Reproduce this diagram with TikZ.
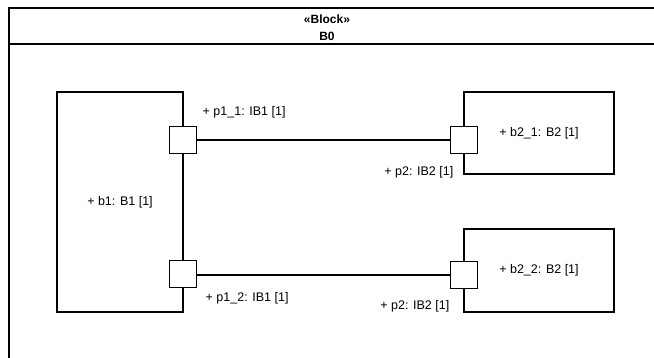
\documentclass[tikz,border=0pt]{standalone}
\usepackage{fontspec}
\setmainfont{Liberation Sans}
\usetikzlibrary{positioning,calc}
\begin{document}
\begin{tikzpicture}[x=1pt, y=-1pt,
	block/.style = {draw, line width=1.1pt, fill=white, outer sep=0pt, font=\fontsize{12.5}{15}\selectfont},
	port/.style = {draw, line width=1.1pt, fill=white, outer sep=0pt, minimum width=27pt, minimum height=27pt, inner sep=0pt},
	lbl/.style = {inner sep=0pt, font=\fontsize{12.5}{15}\selectfont},
	link/.style = {line width=1.5pt}]
	\clip (0,0) rectangle (654,357);
	\useasboundingbox (0,0) rectangle (654,357);
	% frame of B0
	\draw[line width=1.1pt] (9,370) -- (9,8) -- (665,8);
	\draw[line width=1.1pt] (9,44) -- (665,44);
	\node[lbl, font=\fontsize{12}{15}\selectfont\bfseries] (stereo) at (327,19) {«Block»};
	\node[lbl, font=\fontsize{12}{15}\selectfont\bfseries] (hdr) at (327,36) {B0};
	% parts
	\node[block, minimum width=126pt, minimum height=220pt] (b1) at (120,202) {\raisebox{-4pt}{+ b1: B1 [1]}};
	\node[block, minimum width=150pt, minimum height=82pt] (b21) at (539,133) {+ b2\_1: B2 [1]};
	\node[block, minimum width=150pt, minimum height=83pt] (b22) at (539,270.5) {+ b2\_2: B2 [1]};
	% ports
	\node[port] (p11) at (b1.east |- 0,140) {};
	\node[port] (p12) at (b1.east |- 0,274) {};
	\node[port] (p21) at (b21.west |- 0,140) {};
	\node[port] (p22) at (b22.west |- 0,275) {};
	% connectors
	\draw[link] (p11) -- (p21);
	\draw[link] (p12.east |- 0,275) -- (p22);
	% port labels
	\node[lbl, anchor=west] (l11) at ($(p11.north east)+(6,-14)$) {+ p1\_1: IB1 [1]};
	\node[lbl, anchor=west] (l12) at ($(p12.south east)+(9,11)$) {+ p1\_2: IB1 [1]};
	\node[lbl, anchor=east] (l21) at ($(p21.south west)+(3,19)$) {+ p2: IB2 [1]};
	\node[lbl, anchor=east] (l22) at ($(p22.south west)+(-1,18)$) {+ p2: IB2 [1]};
\end{tikzpicture}
\end{document}
